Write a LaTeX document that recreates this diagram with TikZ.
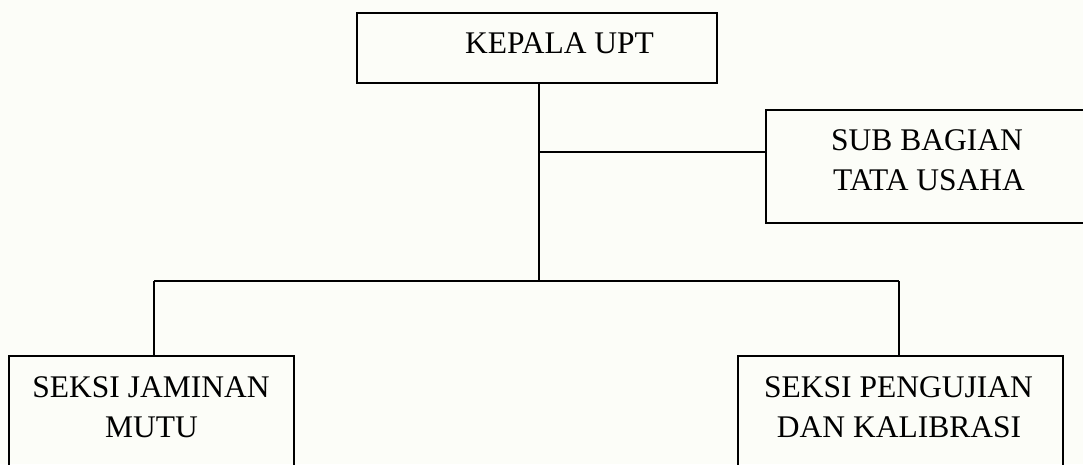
\documentclass[tikz,border=0pt]{standalone}
\usepackage{fontspec}
\setmainfont{Liberation Serif}
\definecolor{paper}{RGB}{252,253,248}
\begin{document}
\begin{tikzpicture}[x=1pt,y=-1pt,
  box/.style={draw=black,line width=1.6pt,inner sep=0pt},
  lbl/.style={anchor=base,inner sep=0pt,font=\fontsize{31.5}{38}\selectfont},
  conn/.style={draw=black,line width=1.6pt}]
\fill[paper] (0,0) rectangle (1083,464);
\useasboundingbox (0,0) rectangle (1083,464);
\clip (0,0) rectangle (1083,464);
% boxes
\node[box,minimum width=360pt,minimum height=70pt] (kepala) at (537,48) {};
\node[box,minimum width=326pt,minimum height=113pt] (sub) at (929,166.5) {};
\node[box,minimum width=285pt,minimum height=124pt] (jaminan) at (151.5,418) {};
\node[box,minimum width=325pt,minimum height=124pt] (uji) at (900.5,418) {};
% texts
\node[lbl] (t1) at (559.5,53) {KEPALA UPT};
\node[lbl] (t2) at (927,150) {SUB BAGIAN};
\node[lbl] (t3) at (929,190) {TATA USAHA};
\node[lbl] (t4) at (151,397) {SEKSI JAMINAN};
\node[lbl] (t5) at (151.5,437) {MUTU};
\node[lbl] (t6) at (898.5,397) {SEKSI PENGUJIAN};
\node[lbl] (t7) at (899,437) {DAN KALIBRASI};
% connectors
\coordinate (j1) at (539,152);
\coordinate (j2) at (539,281);
\coordinate (l1) at (154,281);
\coordinate (r1) at (899,281);
\draw[conn] (kepala.south -| j2) -- (j2);
\draw[conn] (j1) -- (j1 -| sub.west);
\draw[conn] (l1) -- (r1);
\draw[conn] (l1) -- (l1 |- jaminan.north);
\draw[conn] (r1) -- (r1 |- uji.north);
\end{tikzpicture}
\end{document}
